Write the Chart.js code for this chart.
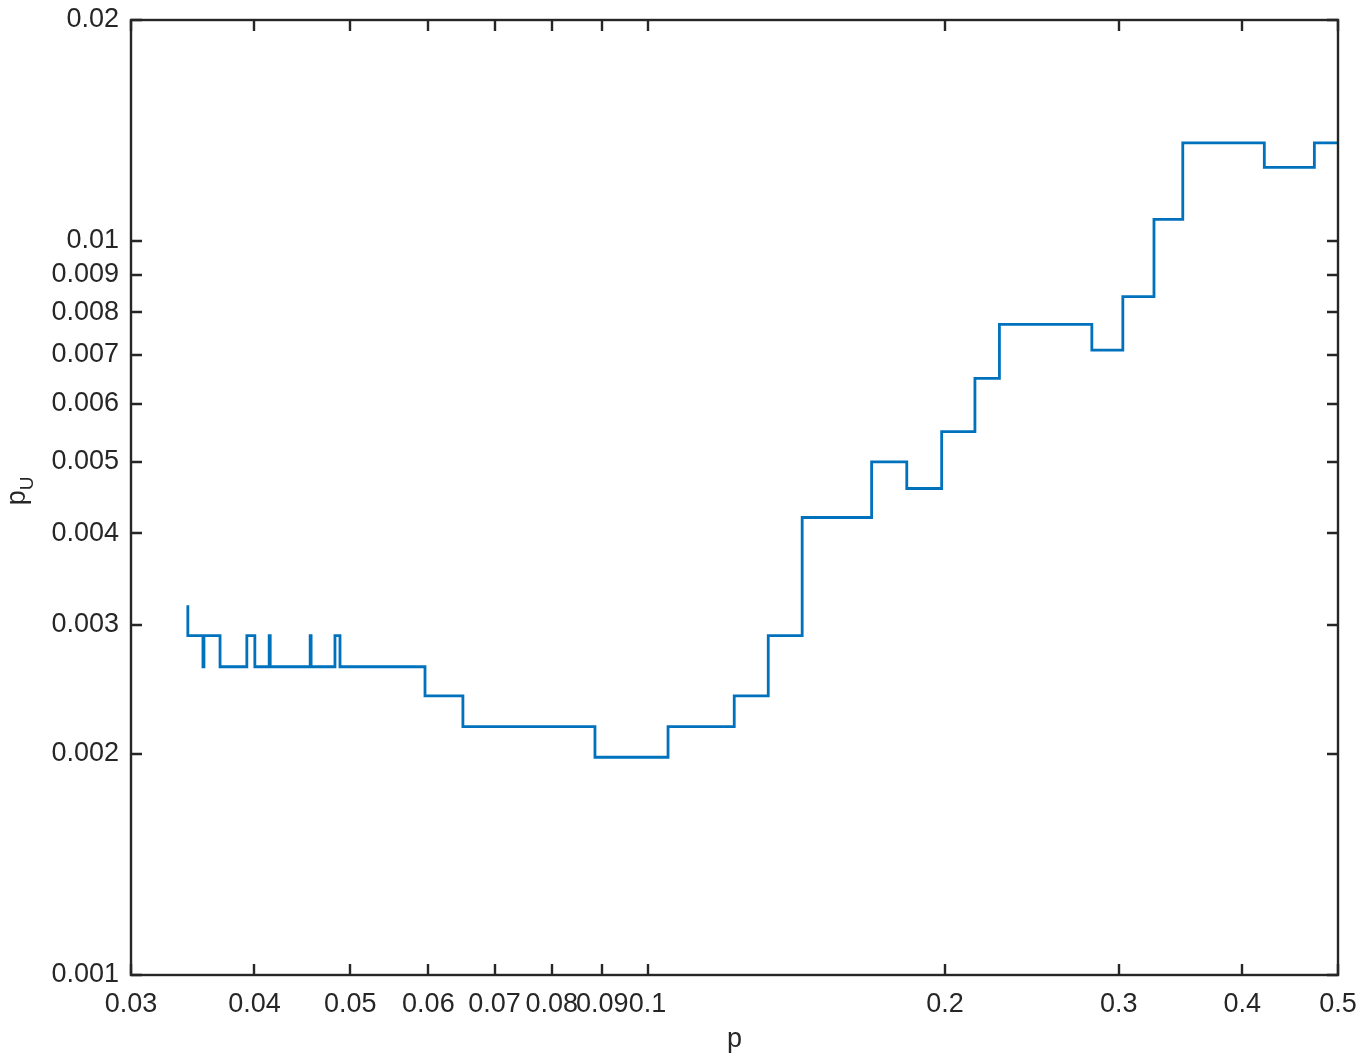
<!DOCTYPE html>
<html><head><meta charset="utf-8">
<style>html,body{margin:0;padding:0;background:#fff;}#wrap{width:1363px;height:1057px;}</style>
<script src="https://cdn.jsdelivr.net/npm/chart.js@4.4.1/dist/chart.umd.min.js"></script>
</head><body><div id="wrap"><canvas id="c" width="1363" height="1057"></canvas></div>
<script>
// Step start positions (p) and levels (p_U); each level holds until the next p.
const stepP  = [0.03425, 0.03425, 0.03548, 0.03556, 0.03692, 0.03930, 0.04004, 0.04140, 0.04150,
                0.04555, 0.04565, 0.04826, 0.04883, 0.05953, 0.06503, 0.08847, 0.1049, 0.1224,
                0.1325, 0.1434, 0.1686, 0.1830, 0.1985, 0.2145, 0.2271, 0.2817, 0.3028, 0.3256,
                0.3482, 0.4211, 0.4732, 0.5];
const stepPU = [0.00319, 0.0029, 0.00263, 0.0029, 0.00263, 0.0029, 0.00263, 0.0029, 0.00263,
                0.0029, 0.00263, 0.0029, 0.00263, 0.0024, 0.00218, 0.00198, 0.00218, 0.0024,
                0.0029, 0.0042, 0.005, 0.0046, 0.0055, 0.0065, 0.0077, 0.0071, 0.0084, 0.0107,
                0.0136, 0.0126, 0.0136, 0.0136];
const xTickValues = [0.03, 0.04, 0.05, 0.06, 0.07, 0.08, 0.09, 0.1, 0.2, 0.3, 0.4, 0.5];
const yTickValues = [0.001, 0.002, 0.003, 0.004, 0.005, 0.006, 0.007, 0.008, 0.009, 0.01, 0.02];
const xTitle = 'p';
const yTitle = 'p';
const yTitleSub = 'U';

const FONT = '"Liberation Sans", Arial, Helvetica, sans-serif';
const TXT = '#262626';
const AX = '#262626';

const points = stepP.map((p, i) => ({x: p, y: stepPU[i]}));
const fmt = v => String(+Number(v).toPrecision(3));

const boxPlugin = {
  id: 'box',
  afterDraw(chart) {
    const ctx = chart.ctx, a = chart.chartArea;
    const xs = chart.scales.x, ys = chart.scales.y;
    ctx.save();
    ctx.strokeStyle = AX;
    ctx.lineWidth = 2.4;
    ctx.strokeRect(a.left, a.top, a.right - a.left, a.bottom - a.top);
    const L = 11;
    ctx.beginPath();
    xTickValues.forEach(v => {
      const px = Math.round(xs.getPixelForValue(v));
      ctx.moveTo(px, a.bottom); ctx.lineTo(px, a.bottom - L);
      ctx.moveTo(px, a.top); ctx.lineTo(px, a.top + L);
    });
    yTickValues.forEach(v => {
      const py = Math.round(ys.getPixelForValue(v));
      ctx.moveTo(a.left, py); ctx.lineTo(a.left + L, py);
      ctx.moveTo(a.right, py); ctx.lineTo(a.right - L, py);
    });
    ctx.stroke();
    // axis titles
    ctx.fillStyle = TXT;
    ctx.font = '27px ' + FONT;
    ctx.textAlign = 'center';
    ctx.textBaseline = 'alphabetic';
    ctx.fillText(xTitle, (a.left + a.right) / 2, 1047);
    ctx.translate(25, 491);
    ctx.rotate(-Math.PI / 2);
    ctx.textAlign = 'left';
    const w = ctx.measureText(yTitle).width;
    const sub = '19px ' + FONT;
    ctx.font = sub;
    const w2 = ctx.measureText(yTitleSub).width;
    const start = -(w + w2) / 2;
    ctx.font = '27px ' + FONT;
    ctx.fillText(yTitle, start, 0);
    ctx.font = sub;
    ctx.fillText(yTitleSub, start + w, 8);
    ctx.restore();
  }
};

new Chart(document.getElementById('c'), {
  type: 'line',
  data: {
    datasets: [{
      data: points,
      borderColor: '#0072BD',
      borderWidth: 2.8,
      pointRadius: 0,
      fill: false,
      stepped: 'before',
      tension: 0
    }]
  },
  options: {
    responsive: false,
    animation: false,
    devicePixelRatio: 1,
    layout: {padding: {top: 20, right: 25, left: 0, bottom: 0}},
    plugins: {legend: {display: false}, tooltip: {enabled: false}},
    scales: {
      x: {
        type: 'logarithmic', min: 0.03, max: 0.5,
        afterBuildTicks: s => { s.ticks = xTickValues.map(v => ({value: v})); },
        afterFit: s => { s.height = 82; s.paddingLeft = 0; s.paddingRight = 0; },
        grid: {display: false, drawTicks: false},
        border: {display: false},
        ticks: {autoSkip: false, maxRotation: 0, minRotation: 0, padding: 13,
                color: TXT, font: {family: FONT, size: 27}, callback: v => fmt(v)}
      },
      y: {
        type: 'logarithmic', min: 0.001, max: 0.02,
        afterBuildTicks: s => { s.ticks = yTickValues.map(v => ({value: v})); },
        afterFit: s => { s.width = 131; s.paddingTop = 0; s.paddingBottom = 0; },
        grid: {display: false, drawTicks: false},
        border: {display: false},
        ticks: {autoSkip: false, padding: 12, color: TXT,
                font: {family: FONT, size: 27}, callback: v => fmt(v)}
      }
    }
  },
  plugins: [boxPlugin]
});
</script>
</body></html>
